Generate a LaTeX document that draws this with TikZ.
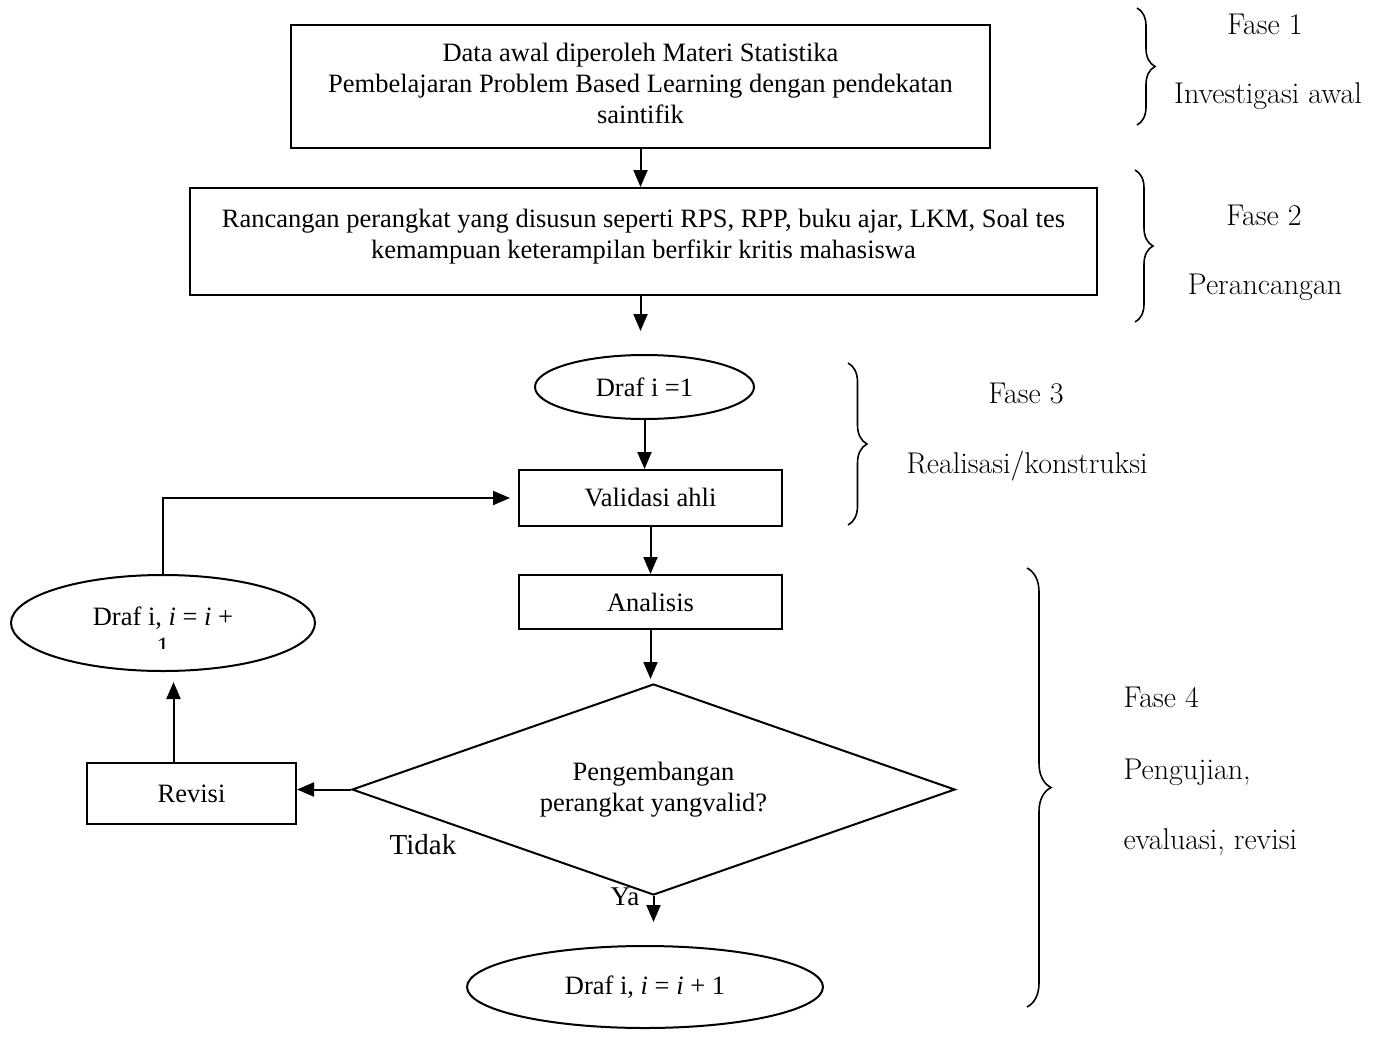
\documentclass[tikz,border=0pt]{standalone}
\usepackage{fontspec}
\newfontfamily\timesfont{Liberation Serif}
\usetikzlibrary{shapes.geometric,arrows.meta,decorations.pathreplacing}
\newcommand{\mi}{\textit{i}}
\begin{document}
\begin{tikzpicture}[x=1pt,y=-1pt,
  txt/.style={font=\timesfont\fontsize{26.5}{31}\selectfont},
  phase/.style={font=\fontsize{30}{34}\selectfont},
  box/.style={draw, line width=2pt, rectangle, inner sep=0pt, align=center, txt},
  oval/.style={draw, line width=2pt, ellipse, inner sep=0pt, align=center, txt},
  arr/.style={line width=2pt, -{Triangle[length=17pt,width=14pt]}},
  brc/.style={line width=1.6pt, decorate, decoration={brace, amplitude=#1}}
]
\useasboundingbox (0,0) rectangle (1383,1041);

\node[box, minimum width=699, minimum height=123] (b1) at (640.5,86.5)
  {Data awal diperoleh Materi Statistika\\Pembelajaran Problem Based Learning dengan pendekatan\\saintifik\\[-24pt]\mbox{}};
\node[box, minimum width=907, minimum height=107] (b2) at (643.5,241.5)
  {Rancangan perangkat yang disusun seperti RPS, RPP, buku ajar, LKM, Soal tes\\kemampuan keterampilan berfikir kritis mahasiswa\\[-16pt]\mbox{}};
\node[oval, minimum width=219, minimum height=64] (d1) at (644.5,387) {Draf i =1};
\node[box, minimum width=263, minimum height=56] (val) at (650.5,498) {Validasi ahli};
\node[box, minimum width=263, minimum height=54] (ana) at (650.5,602) {Analisis};
\node[draw, line width=2pt, diamond, aspect=2.86, minimum width=603, minimum height=211, inner sep=0pt, align=center, txt] (dia) at (653.5,789.5)
  {Pengembangan\\perangkat yangvalid?};
\node[box, minimum width=209, minimum height=61] (rev) at (191.5,793.5) {Revisi};
\node[oval, minimum width=304, minimum height=96] (d2) at (163,623) {};
\node[txt] (d2t) at (163,618) {Draf i, \mi\ = \mi\ +};
\begin{scope}
  \clip (140,630) rectangle (190,648);
  \node[txt] (d2one) at (163,647) {1};
\end{scope}
\node[oval, minimum width=356, minimum height=82] (d3) at (645,987) {Draf i, \mi\ = \mi\ + 1};

\node[font=\timesfont\fontsize{29}{33}\selectfont] (tidak) at (423,845) {Tidak};
\node[font=\timesfont\fontsize{27}{31}\selectfont] (ya) at (625,897) {Ya};

% connectors
\draw[arr] (b1.south) -- (b1.south |- b2.north);
\draw[arr, shorten >=23pt] (b2.south -| b1.south) -- (b1.south |- d1.north);
\draw[arr] (d1.south) -- (d1.south |- val.north);
\draw[arr] (val.south) -- (ana.north);
\draw[arr, shorten >=4pt] (ana.south) -- (ana.south |- dia.north);
\draw[arr, shorten >=23pt] (dia.south) -- (dia.south |- d3.north);
\draw[arr] (dia.west) -- (dia.west -| rev.east);
\draw[arr, shorten >=10pt] ([xshift=-18pt]rev.north) -- ([xshift=-18pt]rev.north |- d2.south);
\draw[arr, shorten >=8pt] (d2.north) |- (val.west);

% braces
\draw[brc=18pt] (1137,8) -- (1137,125);
\draw[brc=18pt] (1135,170) -- (1135,322);
\draw[brc=19pt] (848,363) -- (848,525);
\draw[brc=24pt] (1027,568) -- (1027,1007);

% phase labels
\node[phase] (f1) at (1265,24) {Fase 1};
\node[phase] (f1b) at (1268,96) {Investigasi awal};
\node[phase] (f2) at (1264,215) {Fase 2};
\node[phase] (f2b) at (1265,287) {Perancangan};
\node[phase] (f3) at (1026,394) {Fase 3};
\node[phase] (f3b) at (1027,466) {Realisasi/konstruksi};
\node[phase, anchor=west] (f4) at (1120,697) {Fase 4};
\node[phase, anchor=west] (f4b) at (1120,772) {Pengujian,};
\node[phase, anchor=west] (f4c) at (1120,842) {evaluasi, revisi};
\end{tikzpicture}
\end{document}
